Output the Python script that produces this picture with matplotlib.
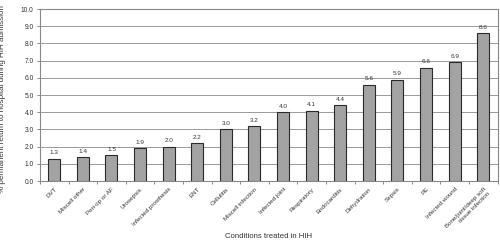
import matplotlib
matplotlib.use("Agg")
import matplotlib.pyplot as plt
import numpy as np

plt.rcParams['font.family'] = ['Liberation Sans', 'DejaVu Sans']

categories = ["DVT", "Miscell other", "Peri-op or AF", "Urosepsis", "Infected prosthesis",
              "ENT", "Cellulitis", "Miscell infection", "Infected joint", "Respiratory",
              "Endocarditis", "Dehydration", "Sepsis", "PE", "Infected wound",
              "Bone/joint/deep soft\ntissue infection"]
values = [1.3, 1.4, 1.5, 1.9, 2.0, 2.2, 3.0, 3.2, 4.0, 4.1, 4.4, 5.6, 5.9, 6.6, 6.9, 8.6]
yticks = [0.0, 1.0, 2.0, 3.0, 4.0, 5.0, 6.0, 7.0, 8.0, 9.0, 10.0]

fig = plt.figure(figsize=(5.0, 2.46), dpi=100)
ax = fig.add_axes([0.08, 0.264, 0.915, 0.699])

x = np.arange(len(categories))
bars = ax.bar(x, values, width=0.42, color='#a3a3a3', edgecolor='#2a2a2a', linewidth=0.8, zorder=3)
for xi, v in zip(x, values):
    ax.text(xi, v + 0.2, f"{v:.1f}", ha='center', va='bottom', fontsize=4.6, color='#333333')

ax.set_xlim(-0.5, len(categories) - 0.5)
ax.set_ylim(0, 10)
ax.set_yticks(yticks)
ax.set_yticklabels([f"{t:.1f}" for t in yticks], fontsize=4.8, color='#333333')
ax.yaxis.grid(True, color='#9a9a9a', linewidth=0.7, zorder=0)
ax.set_xticks(x)
ax.set_xticklabels(categories, rotation=45, ha='right', rotation_mode='anchor', fontsize=4.5, color='#333333')
ax.tick_params(axis='x', which='major', length=0, pad=4)
ax.set_xticks(np.arange(-0.5, len(categories), 1.0), minor=True)
ax.tick_params(axis='x', which='minor', length=2.5, width=0.6, color='#777777')
ax.tick_params(axis='y', length=2.5, width=0.6, color='#777777', pad=2)
for s in ax.spines.values():
    s.set_color('#888888')
    s.set_linewidth(0.8)

ax.set_ylabel("% permanent return to hospital during HIH admission", fontsize=5.8, color='#333333')
ax.yaxis.set_label_coords(-0.075, 0.478)
ax.set_xlabel("Conditions treated in HIH", fontsize=5.6, color='#333333')
ax.xaxis.set_label_coords(0.5, -0.30)

fig.savefig("out.png", dpi=100)
